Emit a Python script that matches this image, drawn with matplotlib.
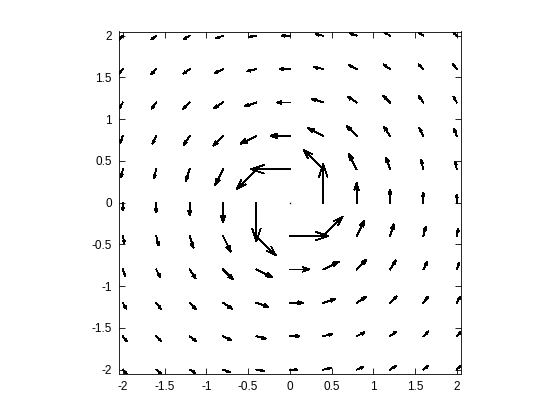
import numpy as np
import matplotlib
matplotlib.use("Agg")
import matplotlib.pyplot as plt

# grid positions (same for x and y)
grid = [-2.0, -1.6, -1.2, -0.8, -0.4, 0.0, 0.4, 0.8, 1.2, 1.6, 2.0]

# vector components, rows go from y=-2 (first) to y=2 (last)
U = [
    [0.25, 0.30, 0.37, 0.43, 0.48, 0.50, 0.48, 0.43, 0.37, 0.30, 0.25],
    [0.24, 0.31, 0.40, 0.50, 0.59, 0.63, 0.59, 0.50, 0.40, 0.31, 0.24],
    [0.22, 0.30, 0.42, 0.58, 0.75, 0.83, 0.75, 0.58, 0.42, 0.30, 0.22],
    [0.17, 0.25, 0.38, 0.63, 1.00, 1.25, 1.00, 0.63, 0.38, 0.25, 0.17],
    [0.10, 0.15, 0.25, 0.50, 1.25, 2.50, 1.25, 0.50, 0.25, 0.15, 0.10],
    [0.00, 0.00, 0.00, 0.00, 0.00, 0.00, 0.00, 0.00, 0.00, 0.00, 0.00],
    [-0.10, -0.15, -0.25, -0.50, -1.25, -2.50, -1.25, -0.50, -0.25, -0.15, -0.10],
    [-0.17, -0.25, -0.38, -0.63, -1.00, -1.25, -1.00, -0.63, -0.38, -0.25, -0.17],
    [-0.22, -0.30, -0.42, -0.58, -0.75, -0.83, -0.75, -0.58, -0.42, -0.30, -0.22],
    [-0.24, -0.31, -0.40, -0.50, -0.59, -0.63, -0.59, -0.50, -0.40, -0.31, -0.24],
    [-0.25, -0.30, -0.37, -0.43, -0.48, -0.50, -0.48, -0.43, -0.37, -0.30, -0.25],
]
V = [
    [-0.25, -0.24, -0.22, -0.17, -0.10, 0.00, 0.10, 0.17, 0.22, 0.24, 0.25],
    [-0.30, -0.31, -0.30, -0.25, -0.15, 0.00, 0.15, 0.25, 0.30, 0.31, 0.30],
    [-0.37, -0.40, -0.42, -0.38, -0.25, 0.00, 0.25, 0.38, 0.42, 0.40, 0.37],
    [-0.43, -0.50, -0.58, -0.63, -0.50, 0.00, 0.50, 0.63, 0.58, 0.50, 0.43],
    [-0.48, -0.59, -0.75, -1.00, -1.25, 0.00, 1.25, 1.00, 0.75, 0.59, 0.48],
    [-0.50, -0.63, -0.83, -1.25, -2.50, 0.00, 2.50, 1.25, 0.83, 0.63, 0.50],
    [-0.48, -0.59, -0.75, -1.00, -1.25, 0.00, 1.25, 1.00, 0.75, 0.59, 0.48],
    [-0.43, -0.50, -0.58, -0.63, -0.50, 0.00, 0.50, 0.63, 0.58, 0.50, 0.43],
    [-0.37, -0.40, -0.42, -0.38, -0.25, 0.00, 0.25, 0.38, 0.42, 0.40, 0.37],
    [-0.30, -0.31, -0.30, -0.25, -0.15, 0.00, 0.15, 0.25, 0.30, 0.31, 0.30],
    [-0.25, -0.24, -0.22, -0.17, -0.10, 0.00, 0.10, 0.17, 0.22, 0.24, 0.25],
]

ticks = [-2, -1.5, -1, -0.5, 0, 0.5, 1, 1.5, 2]
tick_labels = ["-2", "-1.5", "-1", "-0.5", "0", "0.5", "1", "1.5", "2"]

X, Y = np.meshgrid(grid, grid)
x = X.ravel()
y = Y.ravel()
u = np.array(U).ravel()
v = np.array(V).ravel()

# old matlab style autoscale: longest arrow fills 0.9 of a grid cell
n = len(grid)
delx = (max(grid) - min(grid)) / n
dely = delx
length = np.sqrt((u ** 2 + v ** 2) / (delx ** 2 + dely ** 2))
scale = 0.9 / length.max()
u = u * scale
v = v * scale

# shafts and open arrow heads, separated by NaN
alpha, beta = 0.33, 0.33
nan = np.full(x.shape, np.nan)
shaft_x = np.column_stack([x, x + u, nan]).ravel()
shaft_y = np.column_stack([y, y + v, nan]).ravel()
head_x = np.column_stack([x + u - alpha * (u + beta * v), x + u,
                          x + u - alpha * (u - beta * v), nan]).ravel()
head_y = np.column_stack([y + v - alpha * (v - beta * u), y + v,
                          y + v - alpha * (v + beta * u), nan]).ravel()

fig = plt.figure(figsize=(5.6, 4.2), dpi=100, facecolor="white")
ax = fig.add_axes([0.13, 0.11, 0.775, 0.815])

ax.plot(shaft_x, shaft_y, color="black", lw=0.6, antialiased=False)
ax.plot(head_x, head_y, color="black", lw=0.6, antialiased=False)
zero = (u == 0) & (v == 0)
ax.plot(x[zero], y[zero], ls="none", marker="s", ms=1, mew=0, color="black")

ax.set_xlim(-2.05, 2.05)
ax.set_ylim(-2.05, 2.05)
ax.set_aspect("equal", adjustable="box")
ax.set_xticks(ticks)
ax.set_xticklabels(tick_labels)
ax.set_yticks(ticks)
ax.set_yticklabels(tick_labels)
ax.tick_params(direction="in", top=True, right=True, length=4, width=0.6,
               labelsize=8.5, pad=5)
for lbl in ax.get_xticklabels() + ax.get_yticklabels():
    lbl.set_family("Liberation Sans")
for s in ax.spines.values():
    s.set_linewidth(0.6)

fig.savefig("out.png", dpi=100, facecolor="white")
